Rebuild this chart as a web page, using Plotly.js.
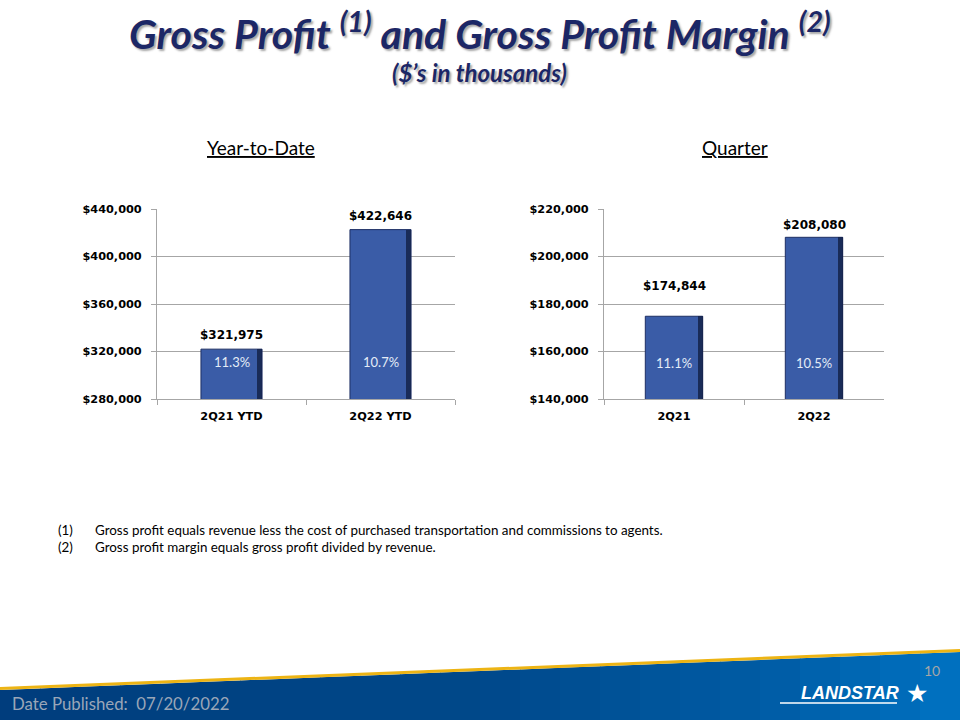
<!DOCTYPE html>
<html>
<head>
<meta charset="utf-8">
<script src="https://cdn.plot.ly/plotly-3.0.1.min.js"></script>
<style>html,body{margin:0;padding:0;background:#fff;}#chart{width:960px;height:720px;}</style>
</head>
<body>
<div id="chart"></div>
<script>
// ---- data ----
const ytdCategories = ["2Q21 YTD", "2Q22 YTD"];
const ytdGrossProfit = [321975, 422646];
const ytdMargin = ["11.3%", "10.7%"];
const qtrCategories = ["2Q21", "2Q22"];
const qtrGrossProfit = [174844, 208080];
const qtrMargin = ["11.1%", "10.5%"];
const ytdTicks = [280000, 320000, 360000, 400000, 440000];
const qtrTicks = [140000, 160000, 180000, 200000, 220000];

const fmt = v => "$" + v.toLocaleString("en-US");
const W = 960, H = 720;
const px = x => x / W, py = y => 1 - y / H;

const barColor = "#3A5CA7";
const barLine = "#1E2F63";
const shadowColor = "#14224A";

function barTraces(cats, vals, xa, ya) {
  return [
    {type: "bar", x: cats, y: vals, xaxis: xa, yaxis: ya, width: 0.41, offset: -0.205,
     marker: {color: barColor, line: {color: barLine, width: 1}}, hoverinfo: "none"},
    {type: "bar", x: cats, y: vals, xaxis: xa, yaxis: ya, width: 0.035, offset: 0.17,
     marker: {color: shadowColor, line: {width: 0}, opacity: 0.85}, hoverinfo: "none"}
  ];
}

const data = [].concat(
  barTraces(ytdCategories, ytdGrossProfit, "x", "y"),
  barTraces(qtrCategories, qtrGrossProfit, "x2", "y2")
);

const tickFont = {family: "DejaVu Sans, Verdana, sans-serif", size: 11.3, color: "#000", weight: "bold"};
function yAxis(ticks, anchor) {
  return {
    range: [ticks[0], ticks[ticks.length - 1]], tickvals: ticks, ticktext: ticks.map(v => "<b>" + fmt(v) + "</b>"),
    tickfont: tickFont, showgrid: true, gridcolor: "#A6A6A6", gridwidth: 1,
    showline: true, linecolor: "#A6A6A6", linewidth: 1, ticks: "outside", ticklen: 5,
    tickcolor: "#A6A6A6", zeroline: false, anchor: anchor, domain: [py(399), py(209)],
    ticklabelstandoff: 7, fixedrange: true
  };
}
function xAxis(dom, anchor) {
  return {
    domain: dom, anchor: anchor, type: "category", tickfont: tickFont,
    showline: true, linecolor: "#A6A6A6", linewidth: 1, ticks: "outside", ticklen: 5,
    tickcolor: "#A6A6A6", tickson: "boundaries", showgrid: false, fixedrange: true,
    range: [-0.5, 1.5], ticklabelstandoff: 6
  };
}

const labelFont = {family: "DejaVu Sans, Verdana, sans-serif", size: 12, color: "#000"};
const pctFont = {family: "Lato, sans-serif", size: 13, color: "#E4ECF7"};
const ytdShift = [14, 14];
const qtrShift = [30, 12];

const annotations = [];
function note(x, y, text, font, xanchor) {
  annotations.push({xref: "paper", yref: "paper", x: px(x), y: py(y), text: text, showarrow: false,
    xanchor: xanchor || "center", yanchor: "middle", font: font});
}
ytdCategories.forEach((c, i) => {
  annotations.push({x: c, y: ytdGrossProfit[i], xref: "x", yref: "y", text: "<b>" + fmt(ytdGrossProfit[i]) + "</b>",
    showarrow: false, yshift: ytdShift[i], xanchor: "center", yanchor: "middle", font: labelFont});
  annotations.push({x: c, y: 0.195, xref: "x", yref: "y domain", text: ytdMargin[i], showarrow: false,
    xanchor: "center", yanchor: "middle", font: pctFont});
});
qtrCategories.forEach((c, i) => {
  annotations.push({x: c, y: qtrGrossProfit[i], xref: "x2", yref: "y2", text: "<b>" + fmt(qtrGrossProfit[i]) + "</b>",
    showarrow: false, yshift: qtrShift[i], xanchor: "center", yanchor: "middle", font: labelFont});
  annotations.push({x: c, y: 0.19, xref: "x2", yref: "y2 domain", text: qtrMargin[i], showarrow: false,
    xanchor: "center", yanchor: "middle", font: pctFont});
});

const titleText = "<b><i>Gross Profit <sup>(1)</sup> and Gross Profit Margin <sup>(2)</sup></i></b>";
const subText = "<b><i>($’s in thousands)</i></b>";
const fam = "Lato, sans-serif";
const titleShadow = "2px 2px 2px rgba(60,60,60,0.45)";
note(480, 31, titleText, {family: fam, size: 41, color: "#1C2766", shadow: titleShadow});
note(479, 73, subText, {family: fam, size: 24, color: "#1C2766", shadow: titleShadow});

const headFont = {family: fam, size: 19, color: "#000"};
note(261, 148, "<u>Year-to-Date</u>", headFont);
note(735, 148, "<u>Quarter</u>", headFont);

const noteFont = {family: fam, size: 13.4, color: "#000"};
const footNums = ["(1)", "(2)"];
const footTexts = [
  "Gross profit equals revenue less the cost of purchased transportation and commissions to agents.",
  "Gross profit margin equals gross profit divided by revenue."
];
const footY = [530, 547];
footNums.forEach((n, i) => {
  note(56, footY[i], n, noteFont, "left");
  note(93, footY[i], footTexts[i], noteFont, "left");
});

note(10, 703, "Date Published:  07/20/2022", {family: fam, size: 16.8, color: "#9AA6B8"}, "left");
note(932, 670, "10", {family: fam, size: 14, color: "#A6A6A6"});
note(850, 693, "<b><i>LANDSTAR</i></b>", {family: "Liberation Sans, Arial, sans-serif", size: 18, color: "#FFFFFF"});
note(917, 693, "★", {family: "DejaVu Sans, sans-serif", size: 25, color: "#FFFFFF"});

// ---- footer band (decoration) ----
const shapes = [];
const N = 24;
const yTop = x => 690 - (38 / 960) * x;
function lerp(a, b, t) { return a + (b - a) * t; }
function bandColor(t) {
  const stops = [[0, [0, 61, 124]], [0.5, [0, 72, 138]], [0.8, [0, 92, 165]], [1, [0, 114, 194]]];
  let k = 0; while (k < stops.length - 2 && t > stops[k + 1][0]) k++;
  const [t0, c0] = stops[k], [t1, c1] = stops[k + 1];
  const u = (t - t0) / (t1 - t0);
  return "rgb(" + c0.map((c, j) => Math.round(lerp(c, c1[j], u))).join(",") + ")";
}
for (let i = 0; i < N; i++) {
  const x0 = i * W / N, x1 = (i + 1) * W / N + 0.6;
  const path = `M${px(x0)},${py(yTop(x0))} L${px(x1)},${py(yTop(x1))} L${px(x1)},0 L${px(x0)},0 Z`;
  shapes.push({type: "path", xref: "paper", yref: "paper", path: path, fillcolor: bandColor((i + 0.5) / N), line: {width: 0}, layer: "below"});
}
shapes.push({type: "line", xref: "paper", yref: "paper", x0: 0, y0: py(yTop(0) - 1.5), x1: 1, y1: py(yTop(960) - 1.5),
  line: {color: "#EDB414", width: 3}});
shapes.push({type: "line", xref: "paper", yref: "paper", x0: px(780), y0: py(703), x1: px(897), y1: py(703),
  line: {color: "#FFFFFF", width: 1.5}});

const layout = {
  width: W, height: H, margin: {l: 0, r: 0, t: 0, b: 0},
  paper_bgcolor: "#FFFFFF", plot_bgcolor: "rgba(0,0,0,0)",
  showlegend: false, barmode: "overlay", bargap: 0,
  xaxis: xAxis([px(157), px(455)], "y"),
  yaxis: yAxis(ytdTicks, "x"),
  xaxis2: xAxis([px(604), px(884)], "y2"),
  yaxis2: yAxis(qtrTicks, "x2"),
  annotations: annotations, shapes: shapes
};

Plotly.newPlot("chart", data, layout, {displayModeBar: false, staticPlot: true});
</script>
</body>
</html>
